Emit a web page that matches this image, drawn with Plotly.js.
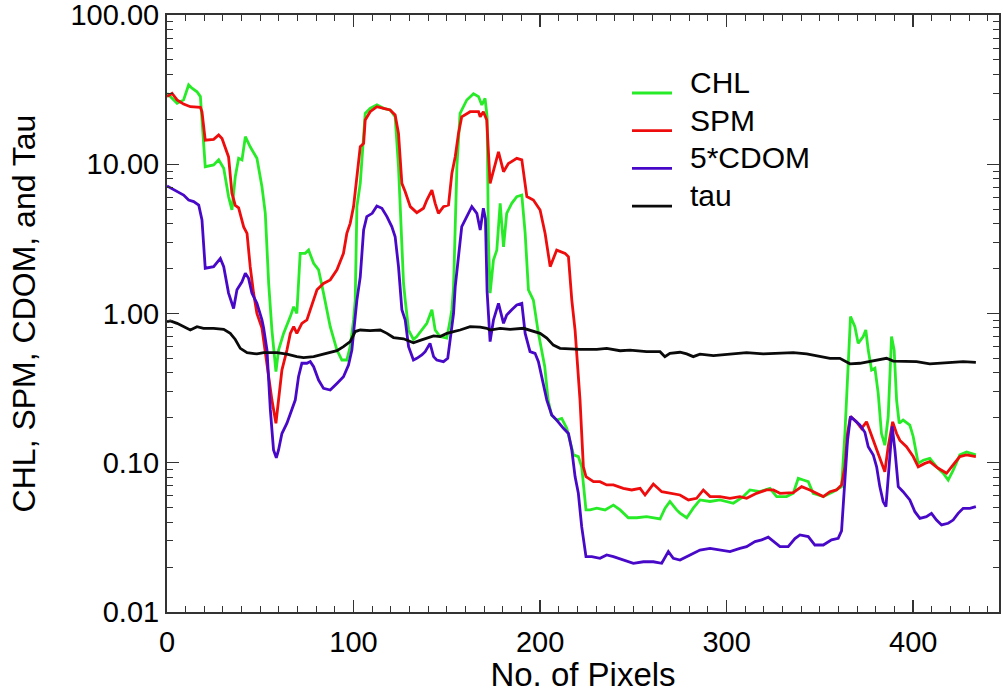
<!DOCTYPE html>
<html>
<head>
<meta charset="utf-8">
<script src="https://cdn.plot.ly/plotly-3.0.1.min.js"></script>
<style>html,body{margin:0;padding:0;background:#fff;}#chart{width:1003px;height:693px;}</style>
</head>
<body>
<div id="chart"></div>
<script>
// CHL
var chlX = [0,5.4,8.9,11.6,13.4,16.1,17.9,20.5,25,27.7,30.4,33,34.8,36.6,38.4,40.2,42,44.6,48.2,50.9,52.7,54.5,56.25,58.4,59.8,62.5,66.1,67.9,69.6,71.4,74.1,75.9,78.6,81.25,83.9,85.7,87.5,91.1,93.75,96.4,98.2,100,100.9,101.8,103.6,106.25,108.9,112.5,116.1,119.6,122.3,124.1,126.8,127.7,129.5,130.4,132.1,133.9,136.6,139.3,142,143.75,146.4,150,151.8,152.7,153.6,155.4,157.1,160.7,164.3,167,168.75,170.5,171.6,172.3,173.2,175,176.8,178.6,180.4,182.1,184.8,187.5,190.2,192,193.75,196.4,199.1,202.5,204.3,206.1,208.9,211.6,214.3,216.1,217.9,220.5,222.3,224.6,226.8,230.4,234.8,239.3,242.9,247.3,251.8,257.1,260.7,264.3,267,269.6,273.2,275,278.6,282.1,285.7,291.1,296.4,303.6,308.9,312.5,317.9,323.2,326.8,332.1,335.7,338.4,341.1,343.75,346.4,351.8,357.1,361.6,363.4,365.2,366.4,368.75,370.5,373.2,374.6,375.9,377.7,379.5,381.25,383,384.8,386.6,388.4,389.8,391.1,392.5,394.6,398.2,400,402.7,405.4,408.9,412.5,416.1,418.75,421.4,425,428.6,433.6];
var chlY = [29.9,25.6,27,34,32.3,30.6,28.4,9.63,9.89,10.7,9.39,6.07,4.94,8.26,10.96,10.68,15.3,13.1,10.96,7.08,4.69,1.59,0.775,0.408,0.569,0.736,0.953,1.11,1.0,2.53,2.53,2.66,2.17,1.96,1.37,1.06,0.816,0.569,0.488,0.488,0.6,0.905,1.23,5.2,7.45,21.9,23.7,25,23.7,23.1,20.8,9.63,1.59,1.23,0.775,0.736,0.67,0.7,0.775,0.859,1.06,0.775,0.7,0.684,0.905,1.06,1.5,9.63,21.9,26.95,29.7,28.4,24.95,27.6,20.8,3.11,1.37,2.28,2.66,5.47,2.8,4.69,5.47,6.07,6.22,3.44,1.44,1.23,0.736,0.44,0.263,0.209,0.193,0.198,0.17,0.141,0.113,0.11,0.094,0.0483,0.0483,0.0496,0.0483,0.052,0.0483,0.0428,0.0428,0.0435,0.0428,0.042,0.0496,0.055,0.0483,0.046,0.0428,0.0496,0.0563,0.055,0.0563,0.0535,0.0593,0.0657,0.064,0.0674,0.0593,0.0593,0.0624,0.0786,0.0766,0.0747,0.0624,0.0593,0.064,0.0692,0.157,0.44,0.953,0.816,0.631,0.7,0.775,0.569,0.418,0.43,0.292,0.157,0.131,0.204,0.7,0.569,0.263,0.184,0.193,0.179,0.15,0.0991,0.104,0.107,0.094,0.085,0.0766,0.089,0.113,0.118,0.113];

// SPM
var spmX = [0,2.7,5.4,8.9,12.5,17.9,18.75,20.5,25,27.7,29.5,31.25,33,34.8,36.6,38.4,41.1,42.9,44.6,46.4,48.2,50.9,53.6,56.25,58.4,61.6,64.3,66.1,67.9,69.6,72.3,75,76.8,78.6,80.4,83.9,87.5,91.1,94.6,96.4,98.2,100,101.8,103.6,105.4,106.25,108.9,112.5,116.1,119.6,122.3,124.1,125.9,127.7,130.4,133.9,137.5,139.3,142,143.75,145.5,148.2,150.9,152.7,154.5,156.25,158,162.5,167,167.9,169.6,171.4,173.2,175,177.7,180.4,183,187.5,190.2,192.9,196.4,200,202.7,205.4,208.9,213.4,215.2,217,218.75,221.4,223.2,224.6,228.6,232.1,235.7,239.3,244.6,249.1,253.6,256.25,260.7,265.2,269.6,275,279.5,283.9,287.5,291.1,296.4,301.8,307.1,310.7,316,321.4,325,328.6,335.7,340.2,344.6,348.2,351.8,355.4,358.9,361.6,363.4,364.8,366.4,369.6,372.3,375,377.7,381.25,384.8,386.6,389,391.1,392.9,396.4,400,402.7,406.25,408.9,413.4,417.9,421.4,425,428.6,433.6];
var spmY = [28.4,29.9,27,25.3,24.3,24.1,22.5,14.5,14.7,15.7,14.9,13.1,11.2,6.4,5.3,5.1,3.8,3.44,2.06,1.37,1.0,0.8,0.44,0.263,0.184,0.418,0.569,0.736,0.816,0.736,0.859,0.905,1.06,1.23,1.44,1.59,1.68,1.96,2.53,3.44,4.02,5.2,8.69,13.1,13.8,19.8,22.5,24.3,23.7,23.1,21.4,16.1,7.45,6.55,5.2,4.74,5.07,5.76,6.72,5.47,4.69,5.2,5.33,8.69,11.24,16.1,20.8,22.5,22.5,20.8,22.5,19.8,7.45,9.15,12.1,8.92,10.1,10.96,10.7,6.07,5.76,4.94,3.44,2.06,2.66,2.53,2.4,1.23,0.775,0.263,0.094,0.0807,0.0747,0.0747,0.071,0.071,0.0674,0.0657,0.0674,0.0608,0.072,0.064,0.0624,0.0608,0.0563,0.0578,0.0657,0.0593,0.0593,0.0578,0.0593,0.0578,0.0624,0.0657,0.0657,0.0624,0.063,0.0692,0.0657,0.0624,0.0593,0.064,0.0657,0.071,0.094,0.157,0.204,0.188,0.17,0.188,0.15,0.115,0.087,0.128,0.188,0.157,0.141,0.128,0.11,0.094,0.099,0.1017,0.0918,0.085,0.0966,0.11,0.1127,0.11];

// 5*CDOM
var cdomX = [0,5.4,8.9,11.6,14.3,17,18.75,20.5,25,28.6,30.4,33,35.7,37.5,40.2,42,43.75,45.5,48.2,50.9,51.8,53.6,55.4,57.1,58.6,59.8,61.6,64.3,67,68.75,70.5,72.3,75,76.8,78.6,81.25,83.9,87.5,91.1,94.6,97.3,99.1,100.9,101.8,103.6,105.4,107.1,110,112.5,115.2,117.9,120.5,122.3,124.1,125.9,127.7,129.5,132.1,133.9,136.6,138.4,141,142.9,144.6,148.2,150.5,151.8,153.6,154.5,158,160.7,163.4,166.1,167.9,169.6,170.7,171.6,173.2,175,177.7,180.4,182.1,184.8,187.5,190.2,192,194.6,197.3,199.1,200.9,203.6,206.25,208.9,212.5,215.2,217,218.75,220.5,222.3,224.6,227.7,232.1,235.7,239.3,244.6,250,255.4,260.7,265.2,268.75,271.4,275,280.4,285.7,291.1,296.4,301.8,307.1,310.7,315.2,318.75,322.3,325,328.6,333,336.6,339.3,343.75,347.3,351.8,356.25,359.8,361.6,363.4,364.8,366.4,368.75,371.4,374.1,375.9,378.6,380.4,382.1,383.9,385.4,386.8,388.75,390.2,392,394.6,398.2,400.9,403.6,407.1,409.8,412.5,415.2,418.75,421.4,424.1,426.8,430.4,433.6];
var cdomY = [7.15,6.55,6.22,5.76,5.62,5.33,4.23,2.01,2.06,2.34,2.06,1.37,1.08,1.44,1.63,1.86,1.72,1.37,1.17,0.905,0.8,0.569,0.226,0.1218,0.108,0.1218,0.157,0.184,0.226,0.263,0.377,0.464,0.464,0.476,0.44,0.358,0.315,0.307,0.34,0.377,0.452,0.569,0.953,1.23,1.76,3.63,4.46,4.69,5.25,5.07,4.46,3.82,3.27,2.06,1.06,0.905,0.6,0.488,0.501,0.527,0.555,0.631,0.514,0.488,0.476,0.501,0.67,1.0,1.51,3.82,4.46,5.2,4.69,3.63,5.07,4.3,1.4,0.648,0.905,1.17,0.859,0.977,1.06,1.14,1.17,0.736,0.555,0.541,0.476,0.377,0.263,0.209,0.193,0.17,0.157,0.1218,0.0807,0.0624,0.0373,0.0235,0.0235,0.0229,0.0241,0.0235,0.0223,0.0212,0.0217,0.0217,0.0212,0.0254,0.0229,0.0223,0.0241,0.026,0.0267,0.026,0.0254,0.0267,0.0274,0.0296,0.0304,0.0317,0.0296,0.0274,0.0274,0.031,0.0328,0.032,0.0281,0.0281,0.0304,0.0312,0.035,0.0728,0.141,0.204,0.193,0.179,0.16,0.128,0.1127,0.094,0.0692,0.0549,0.0508,0.085,0.175,0.1218,0.0692,0.064,0.0563,0.047,0.0424,0.0435,0.0458,0.0413,0.0383,0.0393,0.0413,0.0458,0.0495,0.0495,0.0508];

// tau
var tauX = [0,1.8,5.4,8.9,12.5,16.1,19.6,25,30.4,33.9,36.6,39.3,42.9,48.2,51.8,58.9,64.3,69.6,73.2,78.6,83.9,91.1,94.6,98.2,100.9,103.6,108.9,114.3,117.9,121.4,126.8,132.1,135.7,139.3,142.9,146.4,150,153.6,157.1,162.5,167.9,171.4,173.2,178.6,183.9,191.1,196.4,200,203.6,207.1,210.7,221.4,230.4,235.7,242.9,248.2,257.1,264.3,266.9,269.6,275,278.6,282.1,285.7,292.9,301.8,310.7,319.6,328.6,335.7,342.9,349.6,355.4,360.7,363.4,366.1,371.4,376.8,382.1,385.7,389.3,394.6,401.8,408.9,415.2,421.4,426.8,433.6];
var tauY = [0.882,0.893,0.859,0.816,0.775,0.816,0.796,0.796,0.783,0.736,0.67,0.584,0.546,0.536,0.546,0.546,0.534,0.514,0.507,0.514,0.536,0.563,0.6,0.648,0.757,0.775,0.768,0.775,0.736,0.69,0.677,0.637,0.661,0.684,0.707,0.7,0.736,0.757,0.775,0.816,0.81,0.796,0.775,0.796,0.783,0.796,0.757,0.736,0.684,0.614,0.584,0.575,0.575,0.584,0.563,0.569,0.555,0.555,0.514,0.541,0.55,0.536,0.514,0.534,0.522,0.536,0.546,0.536,0.541,0.546,0.536,0.52,0.501,0.501,0.48,0.46,0.464,0.476,0.488,0.501,0.48,0.476,0.476,0.46,0.464,0.469,0.476,0.471];

var seriesNames = ['CHL', 'SPM', '5*CDOM', 'tau'];
var seriesColors = ['rgb(40,235,40)', 'rgb(238,12,12)', 'rgb(72,8,200)', 'rgb(10,10,10)'];
var yTickVals = [0.01, 0.1, 1, 10, 100];
var xTitle = 'No. of Pixels';
var yTitle = 'CHL, SPM, CDOM, and Tau';

var FONT = '"Liberation Sans", Arial, Helvetica, sans-serif';
var W = 1003, H = 693, M = {l: 167, r: 4, t: 15, b: 81};
var PW = W - M.l - M.r, PH = H - M.t - M.b;
function px2x(px) { return (px - M.l) / PW; }
function px2y(py) { return (H - M.b - py) / PH; }

var xs = [chlX, spmX, cdomX, tauX], ys = [chlY, spmY, cdomY, tauY];
var data = seriesNames.map(function (n, i) {
  return {x: xs[i], y: ys[i], name: n, type: 'scatter', mode: 'lines',
          line: {color: seriesColors[i], width: 2.8}, showlegend: false};
});

// legend (drawn as real text + line samples)
var shapes = [], annotations = [];
seriesNames.forEach(function (n, i) {
  var base = 93 + i * 37.7;
  shapes.push({type: 'line', xref: 'paper', yref: 'paper',
    x0: px2x(632), x1: px2x(672), y0: px2y(base), y1: px2y(base),
    line: {color: seriesColors[i], width: 2.8}});
  annotations.push({xref: 'paper', yref: 'paper', x: px2x(688), y: px2y(base - 10.5),
    xanchor: 'left', yanchor: 'middle', showarrow: false, text: n,
    font: {family: FONT, size: 30, color: '#000'}});
});

var axisCommon = {
  showline: true, linecolor: '#333', linewidth: 2, mirror: 'ticks',
  ticks: 'inside', ticklen: 12, tickwidth: 1.5, tickcolor: '#333',
  showgrid: false, zeroline: false, ticklabeloverflow: 'allow',
  tickfont: {family: FONT, size: 29, color: '#000'}
};

var layout = {
  width: W, height: H, margin: M,
  paper_bgcolor: '#fff', plot_bgcolor: '#fff',
  font: {family: FONT, color: '#000'},
  showlegend: false,
  shapes: shapes, annotations: annotations,
  xaxis: Object.assign({}, axisCommon, {
    range: [0, 446], dtick: 100, tick0: 0, ticklabelstandoff: 3,
    minor: {dtick: 10, ticks: 'inside', ticklen: 6, tickwidth: 1, tickcolor: '#333', showgrid: false},
    title: {text: xTitle, font: {family: FONT, size: 33, color: '#000'}, standoff: 8}
  }),
  yaxis: Object.assign({}, axisCommon, {
    type: 'log', range: [-2.0001, 2.0001], tickmode: 'array', tickvals: yTickVals, tickformat: '.2f',
    minor: {dtick: 'D1', ticks: 'inside', ticklen: 6, tickwidth: 1, tickcolor: '#333', showgrid: false},
    title: {text: yTitle, font: {family: FONT, size: 32, color: '#000'}, standoff: 25}
  })
};

Plotly.newPlot('chart', data, layout, {displayModeBar: false, staticPlot: true});
</script>
</body>
</html>
